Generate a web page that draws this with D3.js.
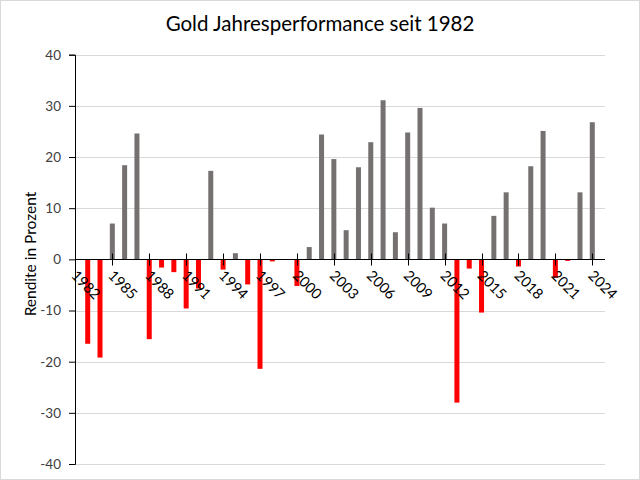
<!DOCTYPE html>
<html>
<head>
<meta charset="utf-8">
<script src="https://cdn.jsdelivr.net/npm/d3@7/dist/d3.min.js"></script>
<style>
  html, body { margin: 0; padding: 0; background: #fff; }
  svg { display: block; }
</style>
</head>
<body>
<svg id="chart" width="640" height="480"></svg>
<script>
const years = d3.range(1982, 2025);
const returns = [
  null, -16.5, -19.2, 7.0, 18.4, 24.6, -15.6, -1.6, -2.5, -9.6,
  -5.7, 17.3, -2.0, 1.2, -4.9, -21.4, -0.4, 0.0, -5.2, 2.4,
  24.4, 19.6, 5.7, 18.0, 22.9, 31.1, 5.3, 24.8, 29.6, 10.1,
  7.0, -28.0, -1.8, -10.4, 8.5, 13.1, -1.4, 18.2, 25.1, -3.6,
  -0.3, 13.1, 26.8
];
const yTicks = [-40, -30, -20, -10, 0, 10, 20, 30, 40];
const xTickYears = d3.range(1982, 2025, 3);
const title = "Gold Jahresperformance seit 1982";
const yLabel = "Rendite in Prozent";

const svg = d3.select("#chart");
const font = "Lato, 'Open Sans', sans-serif";
const left = 75, right = 605;

svg.append("rect").attr("x", 0.5).attr("y", 0.5).attr("width", 639).attr("height", 479)
  .attr("fill", "#fff").attr("stroke", "#d9d9d9");

const x = d3.scalePoint().domain(years).range([75.4, 592.3]);
const y = d3.scaleLinear().domain([-40, 40]).range([464, 54.7]);

// gridlines
svg.append("g").selectAll("line").data(yTicks.filter(t => t !== 0)).join("line")
  .attr("x1", left).attr("x2", right)
  .attr("y1", d => Math.round(y(d)) + 0.5).attr("y2", d => Math.round(y(d)) + 0.5)
  .attr("stroke", "#d9d9d9").attr("stroke-width", 1);

// bars
const data = years.map((yr, i) => ({ yr, v: returns[i] })).filter(d => d.v !== null && d.v !== 0);
const bw = 5;
svg.append("g").selectAll("rect").data(data).join("rect")
  .attr("x", d => x(d.yr) - bw / 2)
  .attr("width", bw)
  .attr("y", d => Math.min(y(d.v), y(0)))
  .attr("height", d => Math.abs(y(d.v) - y(0)))
  .attr("fill", d => d.v < 0 ? "#ff0000" : "#767171");

// y axis
const yAxis = d3.axisLeft(y).tickValues(yTicks).tickSize(6).tickPadding(8).tickFormat(d => String(d));
const gy = svg.append("g").attr("transform", `translate(${left},0)`).call(yAxis);
gy.select(".domain").attr("stroke", "#000");
gy.selectAll(".tick line").attr("stroke", "#000");
gy.selectAll("text").attr("font-family", font).attr("font-size", 13.5).attr("fill", "#404040");

// x axis at zero
const y0 = Math.round(y(0)) + 0.5;
svg.append("line").attr("x1", left).attr("x2", right).attr("y1", y0).attr("y2", y0)
  .attr("stroke", "#000").attr("stroke-width", 1.2);
const gx = svg.append("g");
gx.selectAll("line").data(xTickYears).join("line")
  .attr("x1", d => Math.round(x(d)) + 0.5).attr("x2", d => Math.round(x(d)) + 0.5)
  .attr("y1", y0 - 6).attr("y2", y0 + 6)
  .attr("stroke", "#000");
gx.selectAll("text").data(xTickYears).join("text")
  .attr("transform", d => `translate(${x(d) - 5},${y0 + 17}) rotate(45)`)
  .attr("font-family", font).attr("font-size", 14.5).attr("fill", "#000")
  .text(d => d);

// title
svg.append("text").attr("x", 320).attr("y", 31).attr("text-anchor", "middle")
  .attr("font-family", font).attr("font-size", 20.5).attr("fill", "#000").text(title);

// y label
svg.append("text").attr("transform", `translate(36,254) rotate(-90)`).attr("text-anchor", "middle")
  .attr("font-family", font).attr("font-size", 15.5).attr("fill", "#000").text(yLabel);
</script>
</body>
</html>
